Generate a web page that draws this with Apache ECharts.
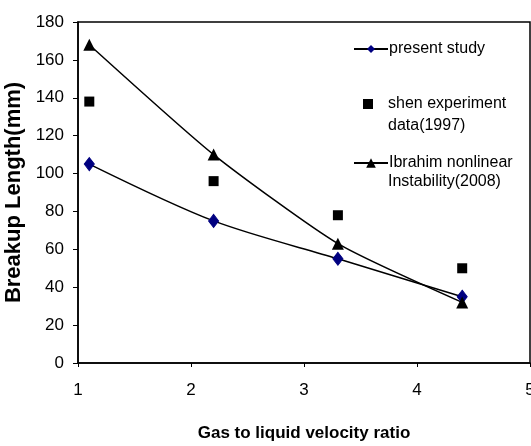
<!DOCTYPE html>
<html><head><meta charset="utf-8">
<script src="https://cdn.jsdelivr.net/npm/echarts@6/dist/echarts.min.js"></script>
<style>html,body{margin:0;padding:0;background:#fff}#c{width:531px;height:446px}</style>
</head><body><div id="c"></div>
<script>
const xValues = [1.1, 2.2, 3.3, 4.4];
const presentStudy = [105, 75, 55, 35];
const shenData = [138, 96, 78, 50];
const ibrahim = [168, 110, 63, 32];
const xTicks = [1, 2, 3, 4, 5];
const yTicks = [0, 20, 40, 60, 80, 100, 120, 140, 160, 180];
const names = ['present study', 'shen experiment', 'Ibrahim nonlinear'];
const secondLines = ['data(1997)', 'Instability(2008)'];

const pair = arr => xValues.map((x, i) => [x, arr[i]]);
const chart = echarts.init(document.getElementById('c'));
const fontReg = '"Liberation Sans", Arial, sans-serif';
const legText = {color:'#000', fontSize:16, fontFamily:fontReg};
chart.setOption({
  animation:false,
  backgroundColor:'#fff',
  grid:{left:78, right:1, top:22, bottom:83, outerBoundsMode:'none', containLabel:false, show:true, borderColor:'#000', borderWidth:1.5, backgroundColor:'transparent'},
  xAxis:{type:'value', min:xTicks[0], max:xTicks[xTicks.length-1], interval:1,
    name:'Gas to liquid velocity ratio', nameLocation:'middle', nameGap:62,
    nameTextStyle:{color:'#000', fontSize:17, fontWeight:'bold', fontFamily:fontReg},
    axisLine:{show:true, lineStyle:{color:'#000', width:1.5}},
    axisTick:{show:true, length:4, lineStyle:{color:'#000'}},
    axisLabel:{color:'#000', fontSize:17, fontFamily:fontReg, margin:19, showMaxLabel:true},
    splitLine:{show:false}},
  yAxis:{type:'value', min:yTicks[0], max:yTicks[yTicks.length-1], interval:20,
    name:'Breakup Length(mm)', nameLocation:'middle', nameGap:49,
    nameTextStyle:{color:'#000', fontSize:22, fontWeight:'bold', fontFamily:fontReg},
    axisLine:{show:true, lineStyle:{color:'#000', width:1.5}},
    axisTick:{show:true, length:5, lineStyle:{color:'#000'}},
    axisLabel:{color:'#000', fontSize:17, fontFamily:fontReg, margin:14},
    splitLine:{show:false}},
  legend:[
    {data:[names[0]], left:353, top:41, padding:0, itemWidth:34, itemHeight:10, textStyle:Object.assign({padding:[0,0,0,-4]}, legText)},
    {data:[names[1]], left:363, top:96, padding:0, itemWidth:10, itemHeight:10, textStyle:Object.assign({padding:[0,0,0,10]}, legText)},
    {data:[names[2]], left:353, top:155, padding:0, itemWidth:34, itemHeight:12, textStyle:Object.assign({padding:[0,0,0,-4]}, legText)}
  ],
  graphic:[
    {type:'text', left:388, top:118, style:{text:secondLines[0], fill:'#000', font:'16px ' + fontReg}},
    {type:'text', left:388, top:174, style:{text:secondLines[1], fill:'#000', font:'16px ' + fontReg}}
  ],
  series:[
    {name:names[0], type:'line', data:pair(presentStudy), smooth:0.3, symbol:'diamond', symbolSize:[10,13],
      lineStyle:{color:'#000', width:1.5}, itemStyle:{color:'#000080', borderColor:'#000080'}},
    {name:names[1], type:'scatter', data:pair(shenData), symbol:'rect', symbolSize:10,
      itemStyle:{color:'#000', opacity:1}},
    {name:names[2], type:'line', data:pair(ibrahim), smooth:0.2, symbol:'triangle', symbolSize:12,
      lineStyle:{color:'#000', width:1.5}, itemStyle:{color:'#000'}}
  ]
});
</script></body></html>
